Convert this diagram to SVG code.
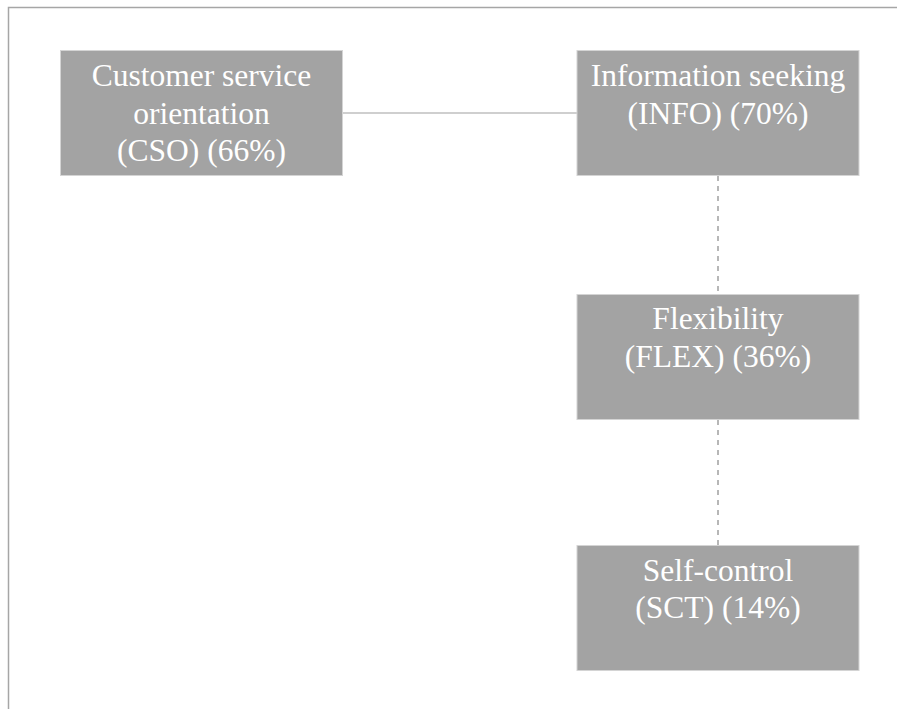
<svg xmlns="http://www.w3.org/2000/svg" width="897" height="709" viewBox="0 0 897 709">
<style>
.box{fill:#a3a3a3;stroke:#d4d4d4;stroke-width:1}
.lbl{font-family:"Liberation Serif","Times New Roman",serif;font-size:31.5px;fill:#ffffff;text-anchor:middle}
.frame{fill:none;stroke:#a6a6a6;stroke-width:1.5}
.solid{stroke:#a0a0a0;stroke-width:1.2;fill:none}
.dash{stroke:#a0a0a0;stroke-width:1.5;stroke-dasharray:5,5;fill:none}
</style>
<rect width="897" height="709" fill="#ffffff"/>
<path class="frame" d="M8.5,709 V7.5 H897"/>
<g id="connectors">
<line class="solid" x1="343" y1="113" x2="577" y2="113"/>
<line class="dash" x1="718" y1="176" x2="718" y2="294"/>
<line class="dash" x1="718" y1="420" x2="718" y2="545"/>
</g>
<g id="cso">
<rect class="box" x="60.5" y="50.5" width="282" height="125"/>
<text class="lbl" x="201.5" y="85.5">Customer service</text>
<text class="lbl" x="201.5" y="123.5">orientation</text>
<text class="lbl" x="201.5" y="160.5">(CSO) (66%)</text>
</g>
<g id="info">
<rect class="box" x="577" y="50.5" width="282" height="125"/>
<text class="lbl" x="718" y="85.5">Information seeking</text>
<text class="lbl" x="718" y="123.5">(INFO) (70%)</text>
</g>
<g id="flex">
<rect class="box" x="577" y="294.5" width="282" height="125"/>
<text class="lbl" x="718" y="329">Flexibility</text>
<text class="lbl" x="718" y="367">(FLEX) (36%)</text>
</g>
<g id="sct">
<rect class="box" x="577" y="545.5" width="282" height="125"/>
<text class="lbl" x="718" y="580.5">Self-control</text>
<text class="lbl" x="718" y="618">(SCT) (14%)</text>
</g>
</svg>
